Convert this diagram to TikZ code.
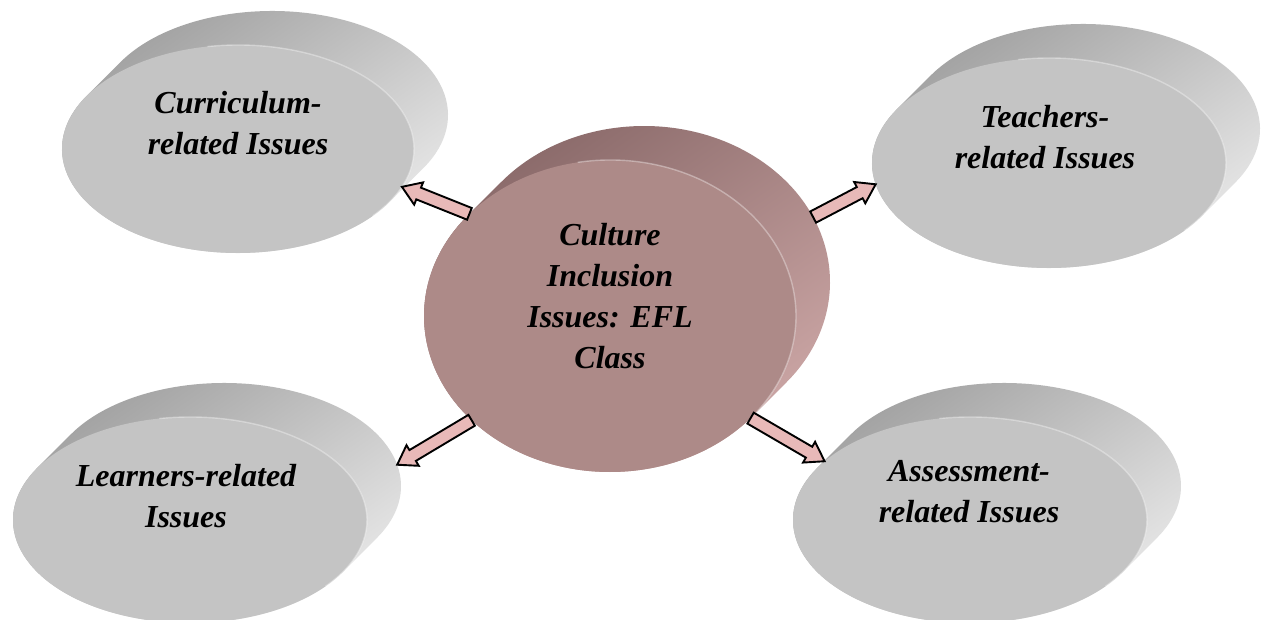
\documentclass[tikz,border=0pt]{standalone}
\usepackage{fontspec}
\setmainfont{Liberation Serif}
\usetikzlibrary{calc,shapes.geometric}

\definecolor{facegrey}{HTML}{C4C4C4}
\definecolor{sidegreydark}{HTML}{9C9C9C}
\definecolor{sidegreylight}{HTML}{ECECEC}
\definecolor{facerose}{HTML}{AD8A88}
\definecolor{siderosedark}{HTML}{866666}
\definecolor{siderosedlight}{HTML}{D0AAA9}
\definecolor{arrowpink}{HTML}{E8B9B8}

% Extruded elliptical disc: #1 name, #2,#3 centre of the front face,
% #4,#5 radii, #6 face colour, #7,#8 colours of the side shading.
% The back face sits 34 units right and 34 units up of the front face.
\newcommand{\extdisc}[8]{%
  \pgfmathsetmacro{\tzero}{atan(#5/#4)}%
  \pgfmathsetmacro{\tone}{\tzero+180}%
  \pgfmathsetmacro{\ttwo}{\tzero+360}%
  \shade[top color=#7, bottom color=#8, shading angle=35]
    ({#2+#4*cos(\tzero)},{#3+#5*sin(\tzero)})
    arc[start angle=\tzero, end angle=\tone, x radius=#4, y radius=#5]
    -- ++(34,-34)
    arc[start angle=\tone, end angle=\ttwo, x radius=#4, y radius=#5]
    -- cycle;
  \node[face, minimum width={2*#4pt}, minimum height={2*#5pt}]
    (#1back) at ({#2+34},{#3-34}) {};
  \node[face, fill=#6, minimum width={2*#4pt}, minimum height={2*#5pt}]
    (#1) at (#2,#3) {};
  \draw[rim] ({#2+#4*cos(-100)},{#3+#5*sin(-100)})
    arc[start angle=-100, end angle=40, x radius=#4, y radius=#5];
}

\tikzset{
  face/.style={shape=ellipse, inner sep=0pt, outer sep=0pt},
  rim/.style={draw=white, draw opacity=0.35, line width=1.4pt},
  lbl/.style={font=\fontsize{32}{41}\selectfont\bfseries\itshape,
    align=center, inner sep=0pt},
  blockarrow/.style={draw=black, line width=1.9pt, fill=arrowpink,
    line join=miter,
    to path={let \p1=(\tikztostart), \p2=(\tikztotarget),
      \n1={veclen(\x2-\x1,\y2-\y1)},
      \n2={(\x2-\x1)/\n1}, \n3={(\y2-\y1)/\n1} in
      ({\x1-(\n3)*6.3pt},{\y1+(\n2)*6.3pt})
      -- ({\x2-(\n2)*18pt-(\n3)*6.3pt},{\y2-(\n3)*18pt+(\n2)*6.3pt})
      -- ({\x2-(\n2)*18pt-(\n3)*12pt},{\y2-(\n3)*18pt+(\n2)*12pt})
      -- (\p2)
      -- ({\x2-(\n2)*18pt+(\n3)*12pt},{\y2-(\n3)*18pt-(\n2)*12pt})
      -- ({\x2-(\n2)*18pt+(\n3)*6.3pt},{\y2-(\n3)*18pt-(\n2)*6.3pt})
      -- ({\x1+(\n3)*6.3pt},{\y1-(\n2)*6.3pt})
      -- cycle}}
}

\begin{document}
\begin{tikzpicture}[x=1pt,y=-1pt]
\path[use as bounding box, fill=white] (0,0) rectangle (1262,620);
\clip (0,0) rectangle (1262,620);

% four grey discs
\extdisc{cur}{238}{149}{176}{104}{facegrey}{sidegreydark}{sidegreylight}
\extdisc{tea}{1049}{163}{177}{105}{facegrey}{sidegreydark}{sidegreylight}
\extdisc{lrn}{190}{520}{177}{103}{facegrey}{sidegreydark}{sidegreylight}
\extdisc{ass}{970}{520}{177}{103}{facegrey}{sidegreydark}{sidegreylight}

% central disc
\extdisc{ctr}{610}{316}{186}{156}{facerose}{siderosedark}{siderosedlight}

% arrows from the centre to each issue
\draw[blockarrow] (ctr.144) to (cur.-13);
\draw[blockarrow] (ctrback.21) to (tea.187.5);
\draw[blockarrow] (ctr.217) to (lrnback.7.5);
\draw[blockarrow] (ctr.-36) to (ass.158.6);

% labels
\node[lbl] (curtxt) at (238,123) {Curriculum-\\related Issues};
\node[lbl] (teatxt) at (1045,137) {Teachers-\\related Issues};
\node[lbl] (lrntxt) at (186,496) {Learners-related\\Issues};
\node[lbl] (asstxt) at (969,492) {Assessment-\\related Issues};
\node[lbl] (ctrtxt) at (610,296) {Culture\\Inclusion\\Issues: EFL\\Class};
\end{tikzpicture}
\end{document}
